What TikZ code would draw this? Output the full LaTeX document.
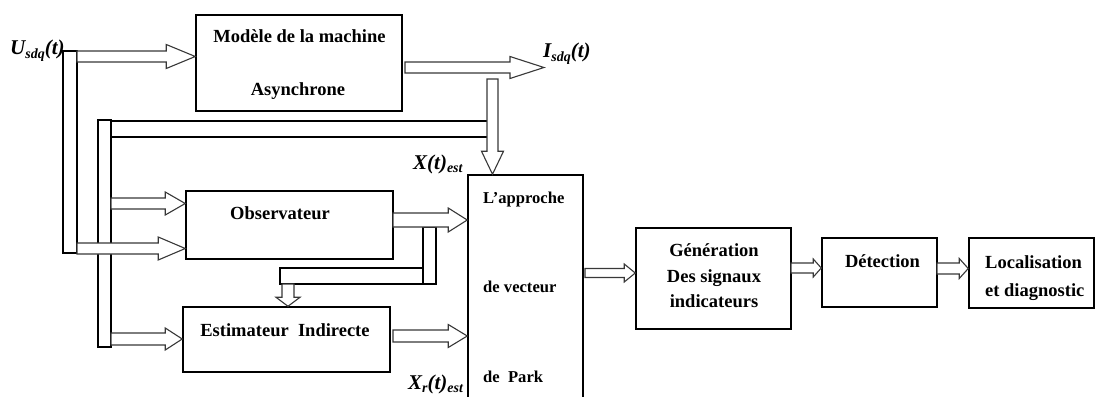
\documentclass[tikz,border=0pt]{standalone}
\usepackage{fontspec}
\setmainfont{Liberation Serif}
\usetikzlibrary{calc}

\tikzset{
  box/.style={draw, line width=1.5pt, inner sep=0pt, rectangle},
  bar/.style={draw, fill=white, line width=1.5pt, inner sep=0pt, rectangle},
  hollow/.style={draw=black!78, fill=white, line width=1.1pt, line join=miter},
  txt/.style={font=\fontsize{18.5}{20}\selectfont\bfseries, anchor=base, inner sep=0pt},
  ltxt/.style={txt, anchor=base west},
  ptxt/.style={font=\fontsize{16.6}{18}\selectfont\bfseries, anchor=base west, inner sep=0pt},
  sig/.style={font=\fontsize{21}{24}\selectfont\bfseries\itshape, anchor=base west, inner sep=0pt},
}

% lowered index for signal names
\newcommand\sigsub[1]{\raisebox{-3.5pt}{\fontsize{14}{14}\selectfont #1}}

% fat hollow arrow pointing right: start, target (x of tip), head length, half shaft, half head
\newcommand\fatright[5]{%
  \path[hollow] let \p1=(#1), \p2=(#2) in
    (\x1,\y1+#4pt) -- (\x2-#3pt,\y1+#4pt) -- (\x2-#3pt,\y1+#5pt) -- (\x2,\y1)
    -- (\x2-#3pt,\y1-#5pt) -- (\x2-#3pt,\y1-#4pt) -- (\x1,\y1-#4pt) -- cycle;}

% fat hollow arrow pointing down: start, target (y of tip), head length, half shaft, half head
\newcommand\fatdown[5]{%
  \path[hollow] let \p1=(#1), \p2=(#2) in
    (\x1-#4pt,\y1) -- (\x1-#4pt,\y2+#3pt) -- (\x1-#5pt,\y2+#3pt) -- (\x1,\y2)
    -- (\x1+#5pt,\y2+#3pt) -- (\x1+#4pt,\y2+#3pt) -- (\x1+#4pt,\y1) -- cycle;}

\begin{document}
\begin{tikzpicture}[x=1pt, y=-1pt]
\useasboundingbox (0,0) rectangle (1097,396);
\clip (0,0) rectangle (1097,396);

% blocks
\node[box, minimum width=206pt, minimum height=96pt] (mod) at (299,63) {};
\node[box, minimum width=207pt, minimum height=68pt] (obs) at (289.5,225) {};
\node[box, minimum width=207pt, minimum height=65pt] (est) at (286.5,339.5) {};
\node[box, minimum width=115pt, minimum height=235pt] (park) at (525.5,292.5) {};
\node[box, minimum width=155pt, minimum height=101pt] (gen) at (713.5,278.5) {};
\node[box, minimum width=115pt, minimum height=69pt] (det) at (879.5,272.5) {};
\node[box, minimum width=125pt, minimum height=70pt] (loc) at (1031.5,273) {};

% block texts
\node[txt] (m1) at (299.5,43) {Modèle de la machine};
\node[txt] (m2) at (298,95) {Asynchrone};
\node[txt] (o1) at (280,219) {Observateur};
\node[txt] (e1) at (285,336) {Estimateur\ \ Indirecte};
\node[ptxt] (p1) at (483,203) {L’approche};
\node[ptxt] (p2) at (483,292) {de vecteur};
\node[ptxt] (p3) at (483,382) {de\ \ Park};
\node[txt] (g1) at (714,256) {Génération};
\node[txt] (g2) at (714,282) {Des signaux};
\node[txt] (g3) at (714,307) {indicateurs};
\node[txt] (d1) at (882.5,267) {Détection};
\node[ltxt] (l1) at (985,268) {Localisation};
\node[ltxt] (l2) at (985,296) {et diagnostic};

% signal names
\node[sig] (usdq) at (10,55) {U\sigsub{sdq}(t)};
\node[sig] (isdq) at (543,58) {I\sigsub{sdq}(t)};
\node[sig] (xest) at (413,169) {X(t)\sigsub{est}};
\node[sig] (xrest) at (408,389) {X\sigsub{r}(t)\sigsub{est}};

% distribution bars
\node[bar, minimum width=390pt, minimum height=16pt] (busH) at (293,129) {};
\node[bar, minimum width=13pt, minimum height=227pt] (busB) at (104.5,233.5) {};
\node[bar, minimum width=14pt, minimum height=202pt] (busA) at (70,152) {};
\node[bar, minimum width=156pt, minimum height=16pt] (brH) at (358,276) {};
\node[bar, minimum width=13pt, minimum height=57pt] (brV) at (429.5,255.5) {};

% arrow start points
\coordinate (uin) at (77,56.5);
\coordinate (uobs) at (77,248.5);
\coordinate (bobs) at (111,203.5);
\coordinate (best) at (111,339);
\coordinate (oout) at (393,220);
\coordinate (eout) at (393,336);
\coordinate (mout) at (405,67.5);
\coordinate (mtip) at (544,67.5);
\coordinate (iin) at (492.5,79);
\coordinate (brdown) at (288,284);
\coordinate (pout) at (585,273);
\coordinate (gout) at (791,268);
\coordinate (dout) at (937,268.5);

% hollow arrows
\fatright{uin}{mod.west}{29}{5.5}{12}
\fatright{bobs}{obs.west}{20}{5.5}{11.5}
\fatright{uobs}{obs.west}{27}{5.5}{11.5}
\fatright{best}{est.west}{17}{6}{11}
\fatright{oout}{park.west}{19}{7}{12}
\fatright{eout}{park.west}{19}{6}{11.5}
\fatright{mout}{mtip}{34}{5.5}{11}
\fatdown{iin}{park.north}{23}{5.5}{11}
\fatdown{brdown}{est.north}{9}{6}{12}
\fatright{pout}{gen.west}{11}{4.5}{9}
\fatright{gout}{det.west}{8}{5}{9}
\fatright{dout}{loc.west}{9}{5.5}{10}
\end{tikzpicture}
\end{document}
